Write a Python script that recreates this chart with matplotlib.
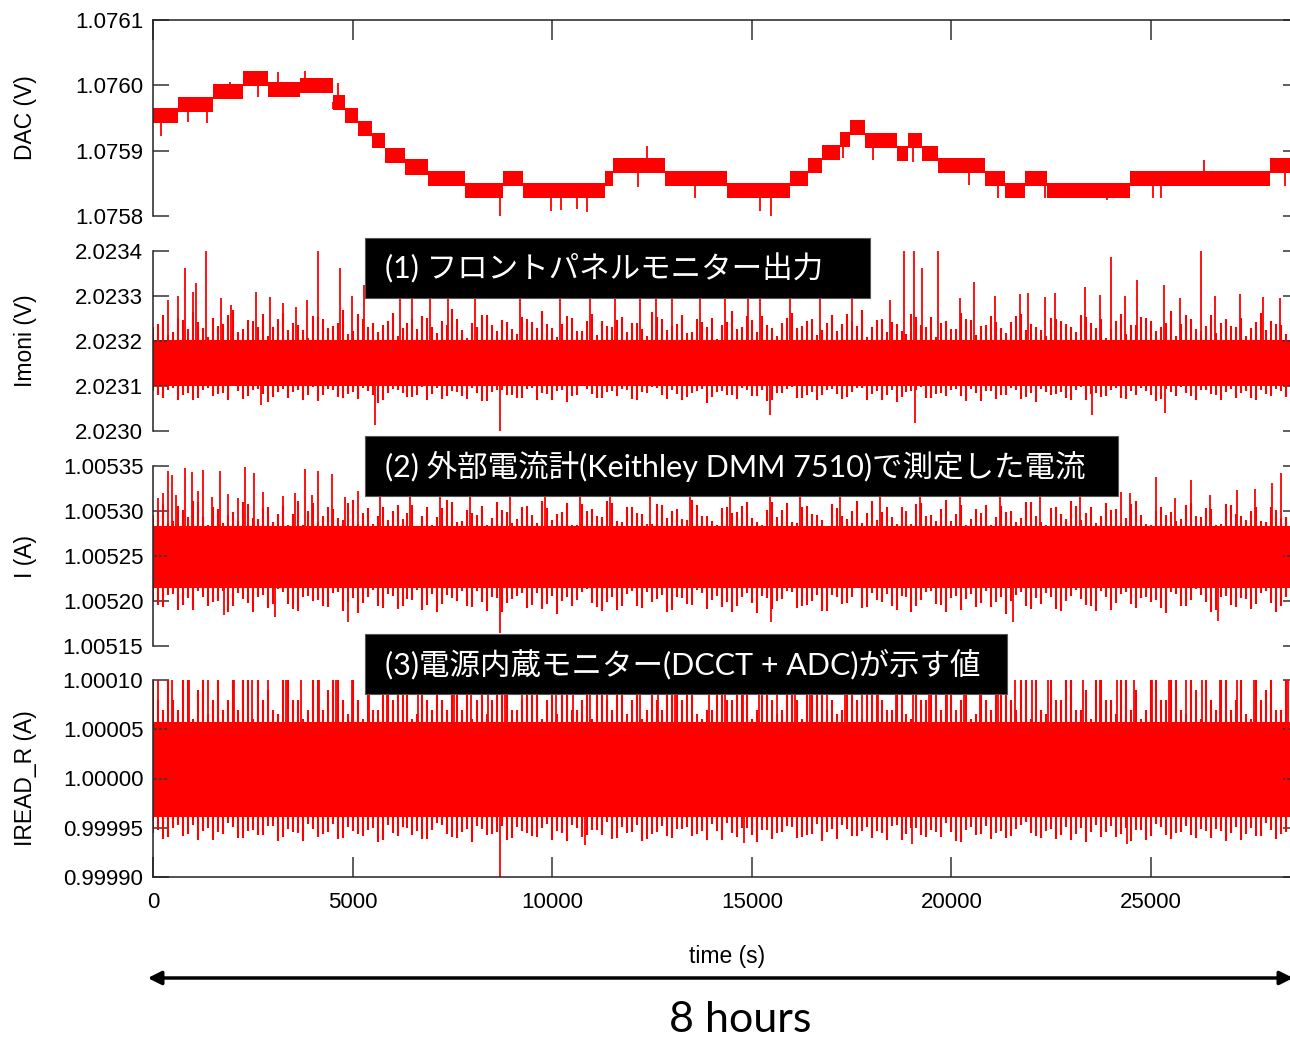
import numpy as np
import matplotlib.pyplot as plt
from matplotlib.patches import Rectangle, FancyArrowPatch
from matplotlib.ticker import FormatStrFormatter

plt.rcParams['font.family'] = ['Liberation Sans', 'DejaVu Sans']

W, H = 1290, 1039
RED = '#ff0000'
JP = ['Lato', 'Noto Sans CJK JP', 'DejaVu Sans']

# ---- data ----
# time grids (s) of the per-bin max/min envelopes of the noisy traces
t_env = np.arange(0, 28501, 250)
t_env_b = t_env[:-1] + 125

# DAC (V): plateau start times (s), plateau levels, band half width
dac_seg_t = [0, 626, 1503, 2255, 2881, 3682, 4509, 4810, 5135, 5486, 5812, 6313,
             6889, 7816, 8768, 9269, 11323, 11523, 12826, 14379, 15957, 16408,
             16759, 17209, 17460, 17836, 18637, 18913, 19263, 19664, 20842,
             21343, 21844, 22395, 24474, 27981]
dac_seg_v = [1.075954, 1.075971, 1.075991, 1.076010, 1.075994, 1.076000,
             1.075974, 1.075954, 1.075934, 1.075916, 1.075893, 1.075875,
             1.075857, 1.075839, 1.075857, 1.075839, 1.075857, 1.075878,
             1.075857, 1.075839, 1.075857, 1.075878, 1.075897, 1.075917,
             1.075935, 1.075916, 1.075895, 1.075916, 1.075895, 1.075878,
             1.075857, 1.075839, 1.075857, 1.075839, 1.075857, 1.075878]
dac_end = 28480
dac_band = 11.5e-6
dac_spike_t = [200, 877, 1353, 1929, 2630, 3131, 3808, 4509, 4634, 8692, 9970,
               10220, 10621, 10872, 12149, 12375, 13577, 15205, 15481, 17285,
               18036, 19038, 20441, 21167, 22345, 23898, 25050, 25250, 26328, 28357]
dac_spike_v = [1.075922, 1.075944, 1.075942, 1.076005, 1.075982, 1.076020,
               1.076022, 1.075964, 1.076004, 1.075798, 1.075808, 1.075809,
               1.075811, 1.075806, 1.075844, 1.075907, 1.075828, 1.075808,
               1.075798, 1.075889, 1.075886, 1.075883, 1.075847, 1.075828,
               1.075828, 1.075824, 1.075828, 1.075828, 1.075886, 1.075846]

# Imoni (V), offsets in uV above 2.0230
imoni_core = [100, 202]
imoni_top = [232, 258, 221, 247, 265, 229, 252, 238, 270, 226, 244, 259,
             231, 262, 240, 225, 256, 248, 233, 268, 222, 250, 241, 236,
             263, 228, 249, 255, 230, 244, 271, 224, 239, 257, 235, 246,
             226, 253, 242, 266, 229, 237, 251, 223, 260, 245, 232, 254,
             239, 227, 264, 248, 233, 258, 221, 243, 252, 236, 267, 230,
             247, 255, 228, 241, 262, 234, 249, 225, 257, 238, 244, 269,
             231, 250, 243, 222, 259, 236, 254, 240, 227, 263, 246, 233,
             256, 229, 242, 261, 237, 224, 251, 245, 232, 258, 239, 248,
             226, 260, 235, 253, 244, 230, 266, 238, 249, 223, 257, 241,
             234, 252, 228, 262, 245, 236, 250]
imoni_bot = [88, 74, 95, 81, 69, 92, 78, 85, 99, 72, 90, 83,
             76, 94, 87, 70, 97, 80, 91, 73, 86, 96, 79, 68,
             93, 84, 75, 98, 82, 71, 89, 77, 95, 66, 87, 92,
             80, 73, 96, 85, 70, 91, 78, 99, 83, 74, 88, 94,
             72, 86, 97, 79, 90, 68, 84, 93, 75, 89, 81, 96,
             77, 92, 70, 85, 98, 74, 87, 80, 93, 71, 86, 95,
             82, 69, 91, 76, 88, 97, 73, 84, 90, 78, 94, 67,
             89, 81, 96, 72, 85, 93, 79, 87, 70, 98, 83, 76,
             92, 74, 88, 95, 80, 71, 86, 97, 77, 90, 82, 69,
             94, 85, 73, 91, 78, 88, 83]
imoni_top_b = [238, 214, 251, 226, 243, 209, 233, 257, 219, 246, 230, 212,
               249, 224, 236, 207, 254, 228, 241, 216, 260, 232, 221, 245,
               211, 239, 227, 252, 218, 235, 248, 206, 231, 258, 223, 242,
               215, 250, 229, 237, 208, 255, 222, 244, 213, 234, 247, 220,
               240, 210, 253, 225, 238, 217, 249, 231, 205, 243, 226, 256,
               219, 236, 212, 251, 228, 245, 214, 239, 223, 259, 233, 209,
               247, 221, 237, 216, 253, 230, 208, 244, 227, 250, 213, 235,
               242, 218, 256, 224, 232, 211, 248, 238, 220, 254, 229, 207,
               245, 215, 236, 251, 222, 240, 210, 257, 226, 234, 217, 249,
               231, 212, 243, 225, 238, 216]
imoni_bot_b = [79, 91, 68, 85, 74, 95, 82, 70, 88, 77, 93, 64,
               86, 73, 90, 80, 67, 94, 76, 83, 71, 89, 62, 84,
               92, 75, 81, 69, 96, 78, 87, 72, 85, 66, 90, 80,
               74, 93, 70, 83, 88, 65, 79, 94, 73, 86, 77, 91,
               68, 84, 95, 71, 82, 76, 89, 63, 87, 80, 72, 92,
               78, 66, 85, 93, 74, 81, 69, 90, 83, 75, 96, 70,
               88, 79, 64, 86, 91, 73, 82, 77, 94, 67, 84, 89,
               71, 80, 92, 76, 65, 87, 83, 74, 90, 69, 85, 78,
               95, 72, 81, 88, 66, 93, 77, 84, 70, 91, 79, 86,
               73, 89, 68, 82, 94, 75]
imoni_peak_t = [376, 626, 802, 1002, 1077, 1328, 1703, 1954, 2580, 2931,
                3257, 3582, 3858, 4133, 4684, 4985, 5286, 6187, 6488, 6939,
                7390, 8066, 9193, 10195, 10947, 11573, 12199, 12600, 13001, 13702,
                14329, 14905, 15205, 15957, 16708, 17510, 18462, 18813, 19063, 19263,
                19664, 20215, 20566, 21092, 21718, 21919, 22345, 22595, 23347, 23722,
                23998, 24349, 24649, 25326, 25726, 26252, 26603, 27229, 27806, 28231]
imoni_peak_v = [291, 300, 362, 309, 329, 400, 296, 280, 309, 298,
                284, 276, 291, 400, 362, 300, 324, 305, 310, 300,
                315, 302, 308, 300, 312, 304, 300, 318, 306, 300,
                310, 303, 300, 308, 302, 311, 291, 400, 400, 362,
                400, 296, 331, 300, 305, 307, 298, 307, 320, 302,
                387, 300, 336, 324, 296, 400, 300, 305, 298, 296]
imoni_dip_t = [2705, 5561, 8680, 15456, 19088, 23522, 25351]
imoni_dip_v = [58, 13, 0, 36, 18, 36, 40]

# I (A), offsets in uA above 1.00500
cur_core = [215, 283]
cur_top = [296, 308, 289, 301, 311, 293, 305, 287, 299, 310, 292, 303,
           288, 306, 297, 285, 309, 294, 302, 290, 312, 298, 286, 304,
           300, 291, 307, 295, 284, 303, 310, 289, 298, 306, 292, 301,
           287, 305, 296, 311, 290, 299, 285, 308, 302, 293, 309, 288,
           304, 297, 286, 307, 300, 291, 312, 295, 289, 303, 298, 306,
           292, 284, 310, 301, 288, 305, 297, 290, 308, 294, 300, 287,
           311, 299, 293, 304, 286, 309, 296, 302, 289, 307, 291, 298,
           285, 306, 300, 292, 310, 288, 303, 297, 311, 290, 305, 294,
           301, 287, 308, 296, 284, 304, 299, 291, 309, 293, 302, 286,
           307, 295, 300, 289, 305, 292, 310]
cur_bot = [201, 193, 208, 196, 190, 205, 199, 211, 194, 202, 188, 207,
           197, 210, 191, 204, 200, 195, 209, 189, 203, 198, 212, 192,
           206, 194, 201, 190, 208, 197, 203, 211, 193, 199, 205, 188,
           202, 209, 196, 191, 206, 200, 194, 210, 198, 189, 204, 195,
           211, 192, 199, 207, 190, 203, 196, 209, 201, 193, 188, 205,
           198, 206, 191, 202, 210, 195, 200, 189, 207, 197, 204, 192,
           209, 199, 194, 206, 188, 201, 211, 196, 203, 190, 208, 198,
           193, 205, 200, 210, 191, 197, 204, 189, 206, 202, 195, 211,
           190, 208, 197, 203, 199, 192, 210, 194, 201, 207, 188, 205,
           196, 203, 191, 209, 198, 194, 200]
cur_top_b = [299, 287, 306, 293, 310, 285, 302, 296, 289, 308, 291, 304,
             297, 284, 311, 300, 288, 305, 292, 309, 286, 303, 295, 290,
             307, 298, 283, 304, 293, 312, 288, 301, 296, 285, 310, 299,
             291, 306, 287, 303, 297, 309, 284, 300, 294, 311, 289, 305,
             298, 286, 308, 292, 302, 290, 307, 295, 285, 304, 299, 310,
             288, 301, 293, 309, 287, 306, 296, 283, 303, 291, 311, 298,
             290, 305, 286, 300, 308, 294, 289, 312, 297, 284, 302, 307,
             293, 299, 288, 310, 295, 285, 304, 291, 306, 298, 287, 309,
             302, 292, 311, 286, 300, 296, 289, 307, 294, 303, 285, 308,
             297, 290, 305, 288, 301, 293]
cur_bot_b = [196, 207, 190, 203, 211, 194, 200, 188, 209, 198, 205, 192,
             213, 197, 189, 206, 201, 193, 210, 199, 187, 204, 195, 208,
             191, 202, 212, 196, 188, 207, 200, 194, 211, 189, 203, 198,
             206, 192, 209, 197, 186, 205, 201, 213, 193, 199, 190, 208,
             195, 210, 202, 188, 204, 197, 212, 191, 206, 199, 194, 209,
             187, 203, 200, 211, 192, 196, 207, 189, 205, 198, 214, 193,
             201, 208, 190, 204, 195, 210, 197, 188, 206, 202, 193, 211,
             199, 186, 207, 194, 203, 209, 191, 200, 212, 196, 189, 205,
             198, 210, 192, 204, 201, 187, 208, 195, 213, 199, 190, 206,
             193, 202, 197, 211, 188, 204]
cur_peak_t = [125, 251, 376, 476, 576, 802, 977, 1127, 1253, 1478, 1678, 1879,
              2129, 2305, 2530, 2756, 3257, 3557, 3808, 3983, 4133, 4484, 4810,
              5135, 5686, 6438, 7189, 7941, 8943, 9820, 10696, 11448, 12450,
              13452, 14454, 15456, 16207, 17209, 18211, 19213, 20215, 21217,
              22219, 23221, 24248, 24474, 25125, 25601, 26002, 26478, 27154,
              27605, 28031, 28257]
cur_peak_v = [315, 320, 345, 340, 318, 348, 343, 322, 346, 316, 344, 319,
              315, 349, 342, 321, 317, 320, 347, 318, 345, 341, 316,
              322, 325, 322, 330, 320, 328, 324, 321, 326, 323,
              329, 320, 325, 322, 327, 321, 324, 328, 320,
              326, 322, 321, 320, 338, 315, 334, 318, 323,
              325, 331, 342]
cur_dip_t = [1779, 3056, 4885, 8680, 15481, 21543, 26678]
cur_dip_v = [184, 182, 177, 164, 177, 177, 178]

# IREAD_R (A), offsets in uA above 0.99990 (205 = beyond the top of the axis)
iread_core = [61, 157]
iread_top = [205, 170, 180, 205, 160, 205, 180, 170, 205, 205, 160, 180,
             170, 205, 180, 160, 205, 170, 205, 180, 205, 160, 170, 205,
             180, 205, 160, 205, 170, 180, 205, 170, 160, 205, 180, 205,
             170, 180, 205, 160, 205, 205, 170, 180, 160, 205, 170, 205,
             180, 160, 205, 170, 205, 180, 205, 160, 170, 205, 180, 205,
             160, 205, 180, 170, 205, 160, 205, 205, 180, 170, 205, 160,
             205, 180, 170, 205, 160, 180, 205, 170, 205, 180, 160, 205,
             170, 205, 180, 205, 160, 170, 205, 180, 205, 170, 160, 205,
             180, 205, 170, 160, 205, 180, 205, 170, 205, 160, 180, 205,
             170, 205, 160, 180, 205, 170, 205]
iread_bot = [45, 39, 50, 42, 53, 47, 38, 44, 51, 40, 48, 43,
             52, 41, 46, 37, 49, 44, 54, 40, 47, 42, 50, 38,
             45, 51, 43, 39, 48, 53, 41, 46, 36, 49, 44, 52,
             40, 47, 42, 50, 38, 45, 53, 41, 48, 43, 39, 51,
             46, 37, 44, 52, 40, 49, 42, 47, 54, 38, 45, 50,
             43, 48, 39, 46, 51, 41, 44, 37, 49, 53, 42, 47,
             40, 45, 52, 38, 50, 43, 48, 41, 46, 36, 51, 44,
             39, 47, 42, 53, 45, 40, 49, 43, 38, 50, 46, 41,
             52, 44, 37, 48, 42, 51, 39, 46, 43, 49, 40, 47,
             45, 38, 50, 42, 48, 44, 41]
iread_top_b = [180, 205, 170, 205, 190, 165, 205, 180, 170, 205, 205, 190,
               165, 205, 180, 170, 205, 190, 205, 165, 180, 205, 170, 205,
               190, 205, 165, 180, 205, 170, 190, 205, 180, 165, 205, 205,
               170, 190, 205, 180, 165, 205, 170, 205, 190, 180, 205, 165,
               205, 170, 180, 205, 190, 205, 165, 170, 205, 180, 205, 190,
               170, 205, 165, 205, 180, 190, 205, 170, 165, 205, 180, 205,
               190, 170, 205, 165, 205, 180, 205, 190, 170, 205, 165, 180,
               205, 190, 170, 205, 205, 165, 180, 205, 170, 190, 205, 180,
               165, 205, 190, 170, 205, 180, 205, 165, 190, 205, 170, 205,
               180, 165, 205, 190, 170, 205]
iread_bot_b = [48, 41, 53, 44, 38, 50, 46, 55, 40, 47, 43, 52,
               37, 49, 45, 54, 41, 46, 39, 51, 44, 48, 36, 53,
               42, 50, 47, 39, 55, 44, 40, 49, 52, 43, 46, 38,
               51, 45, 41, 54, 47, 37, 50, 43, 48, 56, 40, 45,
               53, 39, 46, 42, 49, 51, 44, 38, 47, 55, 41, 50,
               36, 48, 45, 52, 40, 43, 54, 46, 39, 49, 42, 51,
               47, 38, 53, 44, 50, 41, 46, 55, 37, 48, 43, 52,
               45, 40, 49, 56, 42, 47, 39, 51, 44, 36, 53, 46,
               41, 50, 48, 38, 54, 43, 45, 52, 40, 47, 49, 37,
               51, 44, 42, 55, 39, 46]
iread_full_t = [130, 480, 910, 1370, 1620, 2040, 2490, 2870, 3330, 3710, 4160,
                4580, 4990, 5420, 5860, 6270, 6650, 7120, 7530, 7960, 8380,
                8830, 9250, 9620, 10090, 10510, 10940, 11370, 11760, 12210,
                12640, 13080, 13490, 13920, 14330, 14790, 15180, 15620, 16070,
                16460, 16890, 17330, 17760, 18170, 18610, 19040, 19450, 19880,
                20310, 20720, 21160, 21590, 22010, 22430, 22880, 23290, 23710,
                24150, 24580, 25020, 25440, 25870, 26290, 26730, 27150, 27580,
                28010, 28420]
iread_dip_t = [8680, 10822, 14805, 19013, 24399]
iread_dip_v = [0, 32, 35, 33, 33]

# ---- layout ----
fig = plt.figure(figsize=(W / 100, H / 100), dpi=100)
XMAX = 28700
x0 = 153
x1 = x0 + XMAX * 199.6 / 5000


def px_axes(top, bottom):
    return fig.add_axes([x0 / W, 1 - bottom / H, (x1 - x0) / W, (bottom - top) / H])


ax1 = px_axes(20, 216)
ax2 = px_axes(251, 431)
ax3 = px_axes(466, 646)
ax4 = px_axes(680, 877)
axes = [ax1, ax2, ax3, ax4]

# DAC
edges = np.array(dac_seg_t + [dac_end])
lev = np.array(dac_seg_v + [dac_seg_v[-1]])
ax1.fill_between(edges, lev - dac_band, lev + dac_band, step='post', color=RED, lw=0)
idx = np.searchsorted(dac_seg_t, dac_spike_t, side='right') - 1
ax1.vlines(dac_spike_t, np.array(dac_seg_v)[idx], dac_spike_v, color=RED, lw=1.3)


def noisy(ax, base, core, top, bot, top_b, bot_b, pk_t, pk_v, dp_t, dp_v):
    # values are stored in micro units above `base`
    core = base + 1e-6 * np.array(core)
    mid = core.mean()
    ax.fill_between([t_env[0], t_env[-1]], core[0], core[1], color=RED, lw=0)
    ax.vlines(t_env, base + 1e-6 * np.array(bot), base + 1e-6 * np.array(top),
              color=RED, lw=1.5)
    ax.vlines(t_env_b, base + 1e-6 * np.array(bot_b), base + 1e-6 * np.array(top_b),
              color=RED, lw=1.5)
    ax.vlines(pk_t, mid, base + 1e-6 * np.array(pk_v), color=RED, lw=1.3)
    ax.vlines(dp_t, base + 1e-6 * np.array(dp_v), mid, color=RED, lw=1.3)


noisy(ax2, 2.0230, imoni_core, imoni_top, imoni_bot, imoni_top_b, imoni_bot_b,
      imoni_peak_t, imoni_peak_v, imoni_dip_t, imoni_dip_v)
noisy(ax3, 1.00500, cur_core, cur_top, cur_bot, cur_top_b, cur_bot_b,
      cur_peak_t, cur_peak_v, cur_dip_t, cur_dip_v)
noisy(ax4, 0.99990, iread_core, iread_top, iread_bot, iread_top_b, iread_bot_b,
      iread_full_t, [205] * len(iread_full_t), iread_dip_t, iread_dip_v)

ax1.set_ylim(1.0758, 1.0761)
ax1.set_yticks([1.0758, 1.0759, 1.0760, 1.0761])
ax1.yaxis.set_major_formatter(FormatStrFormatter('%.4f'))
ax2.set_ylim(2.0230, 2.0234)
ax2.set_yticks([2.0230, 2.0231, 2.0232, 2.0233, 2.0234])
ax2.yaxis.set_major_formatter(FormatStrFormatter('%.4f'))
ax3.set_ylim(1.00515, 1.00535)
ax3.set_yticks([1.00515, 1.00520, 1.00525, 1.00530, 1.00535])
ax3.yaxis.set_major_formatter(FormatStrFormatter('%.5f'))
ax4.set_ylim(0.99990, 1.00010)
ax4.set_yticks([0.99990, 0.99995, 1.00000, 1.00005, 1.00010])
ax4.yaxis.set_major_formatter(FormatStrFormatter('%.5f'))

labels = ['DAC (V)', 'Imoni (V)', 'I (A)', 'IREAD_R (A)']
for ax, lab in zip(axes, labels):
    ax.set_xlim(0, XMAX)
    ax.set_xticks([0, 5000, 10000, 15000, 20000, 25000])
    for s in ax.spines.values():
        s.set_visible(False)
        s.set_linewidth(1.1)
        s.set_color('#222222')
    ax.spines['left'].set_visible(True)
    ax.tick_params(axis='y', direction='in', length=11.5, width=1.1, color='#333333',
                   labelsize=16, pad=7, left=True, right=True)
    ax.tick_params(axis='x', bottom=False, top=False, labelbottom=False)
    ax.set_ylabel(lab, fontsize=16.5)
    ax.yaxis.set_label_coords(-0.101, 0.5)

ax1.spines['top'].set_visible(True)
ax1.tick_params(axis='x', top=True, direction='in', length=14.5, width=1.1, color='#333333')
ax4.spines['bottom'].set_visible(True)
ax4.tick_params(axis='x', bottom=True, labelbottom=True, direction='in', length=14.5,
                width=1.1, color='#333333', labelsize=16, pad=11)

fig.text(727 / W, 1 - 956 / H, 'time (s)', ha='center', va='center', fontsize=16.5)

# annotation boxes
boxes = [(365, 238, 870, 298, '(1) フロントパネルモニター出力'),
         (365, 436, 1118, 496, '(2) 外部電流計(Keithley DMM 7510)で測定した電流'),
         (365, 634, 1007, 694, '(3)電源内蔵モニター(DCCT + ADC)が示す値')]
for bx0, by0, bx1, by1, txt in boxes:
    fig.patches.append(Rectangle((bx0 / W, 1 - by1 / H), (bx1 - bx0) / W, (by1 - by0) / H,
                                 transform=fig.transFigure, facecolor='black',
                                 edgecolor='#555555', lw=0.8, zorder=5))
    fig.text(385 / W, 1 - (by0 + by1) / 2 / H, txt, color='white', fontsize=22,
             family=JP, ha='left', va='center', zorder=6)

# 8 hours arrow
fig.patches.append(FancyArrowPatch((145 / W, 1 - 978 / H), (1296 / W, 1 - 978 / H),
                                   transform=fig.transFigure, arrowstyle='<|-|>',
                                   mutation_scale=20, lw=2.5, color='black'))
fig.text(740 / W, 1 - 1020 / H, '8 hours', family=JP, fontsize=31,
         ha='center', va='center')

fig.savefig('out.png', dpi=100)
